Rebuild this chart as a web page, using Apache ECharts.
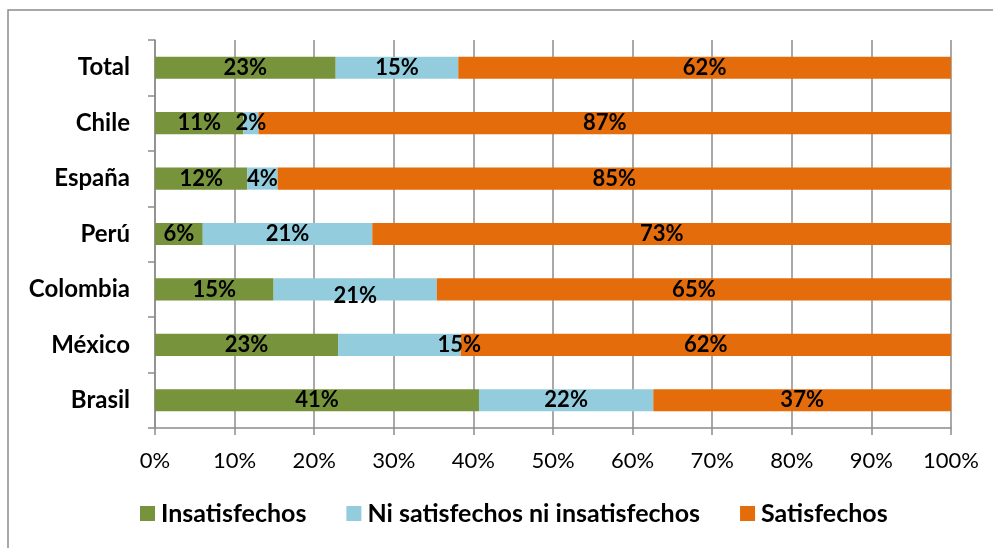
<!DOCTYPE html>
<html>
<head>
<meta charset="utf-8">
<script src="https://cdn.jsdelivr.net/npm/echarts@6/dist/echarts.min.js"></script>
<style>html,body{margin:0;padding:0;background:#fff}#c{width:993px;height:548px}</style>
</head>
<body>
<div id="c"></div>
<script>
const categories = ['Brasil', 'México', 'Colombia', 'Perú', 'España', 'Chile', 'Total'];
const insatisfechos = [40.7, 23.0, 14.9, 6.0, 11.6, 11.1, 22.7];
const neutros = [21.9, 15.4, 20.5, 21.3, 3.8, 1.9, 15.4];
const satisfechos = [37.4, 61.6, 64.6, 72.7, 84.6, 87.0, 61.9];
const seriesNames = ['Insatisfechos', 'Ni satisfechos ni insatisfechos', 'Satisfechos'];
const tickValues = [0, 10, 20, 30, 40, 50, 60, 70, 80, 90, 100];

const colors = ['#77933C', '#93CDDD', '#E46C0A'];
const FONT = 'Lato';

function mk(name, vals, color, offsets) {
  return {
    name: name,
    type: 'bar',
    stack: 'all',
    barWidth: '40%',
    itemStyle: { color: color },
    label: {
      show: true,
      position: 'inside',
      color: '#000',
      fontFamily: FONT,
      fontWeight: 'bold',
      fontSize: 22,
      formatter: p => Math.round(p.value) + '%'
    },
    data: vals.map((v, i) => {
      const d = { value: v };
      if (offsets && offsets[i]) d.label = { offset: offsets[i] };
      return d;
    })
  };
}

const chart = echarts.init(document.getElementById('c'));
chart.setOption({
  animation: false,
  textStyle: { fontFamily: FONT },
  graphic: [{
    type: 'rect',
    shape: { x: 8, y: 10, width: 1100, height: 700 },
    style: { fill: 'none', stroke: '#8c8c8c', lineWidth: 1.5 },
    silent: true
  }],
  grid: { left: 155, right: 42, top: 40, bottom: 120 },
  xAxis: {
    type: 'value',
    min: 0, max: 100, interval: 10,
    axisLine: { show: true, lineStyle: { color: '#8c8c8c', width: 1.5 } },
    axisTick: { show: true, length: 7, lineStyle: { color: '#8c8c8c', width: 1.5 } },
    splitLine: { show: true, lineStyle: { color: '#8c8c8c', width: 1.5 } },
    axisLabel: {
      color: '#000', fontSize: 22, fontFamily: FONT, margin: 22,
      formatter: v => tickValues.includes(v) ? v + '%' : ''
    }
  },
  yAxis: {
    type: 'category',
    data: categories,
    axisLine: { show: true, lineStyle: { color: '#8c8c8c', width: 1.5 } },
    axisTick: { show: true, length: 7, lineStyle: { color: '#8c8c8c', width: 1.5 } },
    axisLabel: { color: '#000', fontSize: 24, fontWeight: 'bold', fontFamily: FONT, margin: 25 }
  },
  legend: {
    bottom: 17,
    left: 135,
    itemWidth: 15, itemHeight: 15,
    itemGap: 40,
    icon: 'rect',
    textStyle: { color: '#000', fontSize: 25, fontWeight: 'bold', fontFamily: FONT, padding: [0, 0, 0, 1] },
    data: seriesNames
  },
  series: [
    mk(seriesNames[0], insatisfechos, colors[0]),
    mk(seriesNames[1], neutros, colors[1], {1: [60, 0], 2: [0, 6]}),
    mk(seriesNames[2], satisfechos, colors[2])
  ]
});
</script>
</body>
</html>
